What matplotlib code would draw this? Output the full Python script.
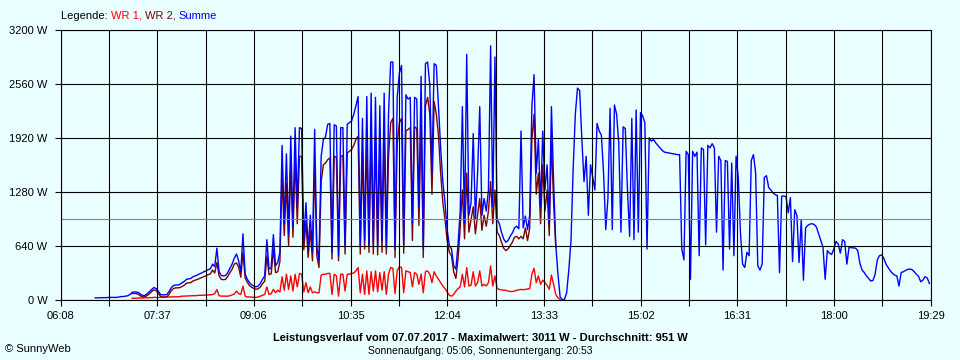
import numpy as np
import matplotlib
matplotlib.use("Agg")
import matplotlib.pyplot as plt

# ---------------- data ----------------
STEP_MIN = 2
SUMME_START = "06:40"
WR_START = "07:14"

summe = [
    20, 20, 20, 22, 22, 22, 25, 25, 25, 25,            # 06:40
    25, 30, 35, 35, 40, 45, 60, 85, 90, 88,            # 07:00
    80, 60, 45, 50, 70, 95, 120, 142, 130, 100,        # 07:20
    60, 55, 55, 60, 95, 140, 165, 172, 172, 180,       # 07:40
    200, 215, 240, 245, 250, 270, 280, 290, 305, 315,  # 08:00
    330, 340, 355, 365, 420, 390, 610, 330, 285, 280,  # 08:20
    285, 320, 370, 420, 490, 540, 460, 330, 780, 300,  # 08:40
    240, 200, 175, 160, 150, 160, 190, 240, 280, 710,  # 09:00
    360, 380, 770, 400, 440, 560, 1830, 900, 1730, 780,   # 09:20
    1940, 870, 2040, 1100, 2040, 2030, 700, 1150, 600, 1000,  # 09:40
    560, 2020, 620, 470, 1700, 1900, 1930, 2080, 2090, 560,   # 10:00
    2075, 2060, 520, 2040, 2040, 650, 2080, 2100, 2120, 2200,  # 10:20
    2300, 2410, 640, 2150, 700, 2410, 640, 2450, 660, 2400,    # 10:40
    640, 2300, 700, 2450, 620, 2200, 2820, 2820, 600, 2400,    # 11:00
    2690, 2780, 650, 2430, 2380, 2400, 900, 2400, 2380, 1100,  # 11:20
    2650, 600, 2800, 2820, 2550, 1500, 2800, 2780, 2300, 1800, # 11:40
    1400, 1150, 830, 640, 600, 400, 360, 650, 1050, 2290,      # 12:00
    900, 2910, 1000, 1150, 1970, 950, 1500, 2290, 1000, 1200,  # 12:20
    1050, 1300, 3011, 1100, 2880, 950, 900, 800, 720, 680,     # 12:40
    700, 750, 790, 850, 870, 840, 2000, 850, 990, 830,         # 13:00
    1000, 2290, 2670, 1500, 1900, 1100, 2000, 1300, 1600, 900, # 13:20
    2290, 1400, 650, 300, 30, 0, 0, 80, 350, 700,              # 13:40
    1550, 2200, 2510, 2480, 1900, 1400, 1700, 1000, 1600, 1450, # 14:00
    1300, 2090, 2000, 1950, 1500, 830, 1200, 2270, 830, 2310,  # 14:20
    2200, 1850, 800, 2050, 2030, 1300, 750, 2150, 710, 2250,   # 14:40
    800, 2220, 2180, 2100, 600, 1920, 1880, 1900, 1860, 1830,  # 15:00
    1800, 1770, 1750, 1745, 1740, 1735, 1730, 1725, 1720, 1720, # 15:20
    600, 470, 1760, 1720, 240, 1760, 1700, 1750, 520, 1800,    # 15:40
    1780, 650, 1830, 1800, 1850, 1800, 800, 1700, 1650, 350,   # 16:00
    1650, 1640, 600, 1620, 520, 1700, 1450, 800, 420, 380,     # 16:20
    560, 520, 1650, 1720, 1500, 400, 350, 420, 1450, 1470,     # 16:40
    1330, 1300, 1265, 1245, 1235, 320, 1225, 1230, 1220, 1030, # 17:00
    1210, 450, 1066, 1000, 440, 950, 230, 850, 880, 895,       # 17:20
    900, 890, 860, 780, 700, 620, 240, 580, 550, 535,          # 17:40
    600, 690, 660, 550, 710, 690, 420, 620, 615, 612,          # 18:00
    610, 580, 430, 350, 320, 280, 250, 220, 225, 300,          # 18:20
    470, 520, 530, 490, 420, 380, 340, 310, 290, 280,          # 18:40
    160, 320, 330, 345, 358, 362, 355, 330, 300, 275,          # 19:00
    210, 230, 270, 255, 190,                                   # 19:20
]

wr1 = [
    15, 15, 15, 18, 18, 18, 20, 20, 22, 22,        # 07:14
    25, 25, 25, 25, 25, 28, 30, 30, 30, 32,        # 07:34
    32, 32, 35, 40, 40, 42, 42, 45, 45, 45,        # 07:54
    48, 50, 50, 52, 52, 55, 55, 60, 70, 118,       # 08:14
    45, 40, 40, 40, 40, 45, 55, 65, 100, 70,       # 08:34
    60, 160, 40, 30, 30, 28, 25, 25, 30, 40,       # 08:54
    50, 60, 150, 60, 70, 120, 80, 110, 90, 270,    # 09:14
    110, 300, 120, 280, 100, 300, 150, 310, 300, 90,   # 09:34
    200, 80, 150, 80, 90, 80, 80, 290, 300, 300,       # 09:54
    310, 310, 60, 300, 280, 40, 300, 300, 100, 300,    # 10:14
    300, 310, 315, 340, 380, 80, 300, 60, 340, 60,     # 10:34
    330, 100, 340, 90, 320, 110, 330, 60, 300, 380,    # 10:54
    370, 70, 340, 390, 380, 80, 340, 330, 320, 150,    # 11:14
    320, 300, 180, 300, 80, 330, 340, 300, 200, 330,   # 11:34
    280, 240, 200, 160, 130, 90, 50, 40, 60, 100,      # 11:54
    130, 150, 300, 150, 380, 160, 170, 330, 160, 200,  # 12:14
    340, 160, 180, 160, 200, 400, 160, 280, 130, 120,  # 12:34
    115, 110, 110, 100, 95, 95, 100, 110, 115, 120,    # 12:54
    115, 120, 125, 130, 300, 370, 200, 280, 180, 230,  # 13:14
    200, 170, 120, 290, 180, 60, 20, 0,                # 13:34
]

wr2 = [
    70, 72, 70, 58, 40, 30, 32, 50, 70, 95,             # 07:14
    115, 105, 75, 38, 30, 30, 32, 62, 105, 130,         # 07:34
    138, 138, 142, 155, 170, 192, 198, 200, 220, 230,   # 07:54
    238, 250, 260, 272, 282, 295, 305, 350, 315, 440,   # 08:14
    280, 240, 235, 240, 275, 320, 360, 420, 435, 385,   # 08:34
    265, 560, 255, 205, 165, 145, 132, 122, 128, 148,   # 08:54
    188, 218, 520, 295, 305, 600, 318, 330, 450, 1500,  # 09:14
    760, 1380, 640, 1600, 740, 1680, 900, 1700, 1700, 590,    # 09:34
    930, 500, 820, 460, 1600, 520, 380, 1400, 1600, 1620,     # 09:54
    1660, 1680, 480, 1700, 1690, 460, 1700, 1710, 540, 1740,  # 10:14
    1760, 1780, 1830, 1900, 1940, 540, 1750, 600, 1900, 560,  # 10:34
    1950, 540, 1900, 530, 1800, 560, 1950, 540, 1700, 2100,   # 10:54
    2150, 500, 1850, 2100, 2150, 550, 2000, 2020, 2040, 700,  # 11:14
    2050, 2030, 880, 2200, 500, 2300, 2400, 2200, 1250, 2350, # 11:34
    2200, 1950, 1500, 1150, 950, 700, 560, 520, 330, 250,     # 11:54
    480, 850, 1300, 720, 1500, 800, 950, 1100, 780, 1000,     # 12:14
    1200, 820, 1000, 870, 1050, 1400, 900, 1300, 800, 760,    # 12:34
    680, 610, 580, 600, 640, 680, 740, 750, 720, 750,         # 12:54
    720, 850, 700, 850, 1900, 2200, 1250, 1500, 900, 1600,    # 13:14
    1050, 1300, 760, 1880, 1150, 620,                         # 13:34
]

X_TICK_LABELS = ["06:08", "07:37", "09:06", "10:35", "12:04",
                 "13:33", "15:02", "16:31", "18:00", "19:29"]
Y_TICKS = [0, 640, 1280, 1920, 2560, 3200]
AVERAGE_W = 951
MAXIMUM_W = 3011
DATE = "07.07.2017"
SUNRISE = "05:06"
SUNSET = "20:53"

SERIES = [("WR 1", "#FF0000"), ("WR 2", "#800000"), ("Summe", "#0000FF")]


def to_min(s):
    h, m = s.split(":")
    return int(h) * 60 + int(m)


def times(start, n):
    return to_min(start) + STEP_MIN * np.arange(n)


BG = "#EAFFFF"
FONT = ["Liberation Sans", "DejaVu Sans"]
plt.rcParams["font.family"] = FONT

W, H = 960, 360
fig = plt.figure(figsize=(W / 100, H / 100), dpi=100, facecolor=BG)
left, right, top, bottom = 60.5, 930.5, 30.0, 299.5
ax = fig.add_axes([left / W, (H - bottom) / H, (right - left) / W, (bottom - top) / H],
                  facecolor=BG)

x_major = [to_min(s) for s in X_TICK_LABELS]
x0, x1 = x_major[0], x_major[-1]
half = (x_major[1] - x_major[0]) / 2
x_all = [x0 + half * k for k in range(2 * (len(x_major) - 1) + 1)]

ax.set_xlim(x0, x1)
ax.set_ylim(Y_TICKS[0], Y_TICKS[-1])

# data
LW = 1.0
ax.plot(times(WR_START, len(wr1)), wr1, color=SERIES[0][1], lw=LW, zorder=3)
ax.plot(times(WR_START, len(wr2)), wr2, color=SERIES[1][1], lw=LW, zorder=4)
ax.plot(times(SUMME_START, len(summe)), summe, color=SERIES[2][1], lw=LW, zorder=5)

# grid (on top of data like the original)
for xv in x_all:
    ax.axvline(xv, color="black", lw=0.8, zorder=6)
for yv in Y_TICKS:
    ax.axhline(yv, color="black", lw=0.8, zorder=6)
ax.axhline(AVERAGE_W, color="#808080", lw=0.8, zorder=7)

for sp in ax.spines.values():
    sp.set_color("black")
    sp.set_linewidth(0.8)
    sp.set_zorder(8)

ax.set_xticks(x_all)
lab = []
for i in range(len(x_all)):
    lab.append(X_TICK_LABELS[i // 2] if i % 2 == 0 else "")
ax.set_xticklabels(lab)
ax.set_yticks(Y_TICKS)
ax.set_yticklabels([f"{v} W" for v in Y_TICKS])
ax.tick_params(axis="both", direction="out", length=4.5, width=0.8, color="black",
               labelsize=8, labelcolor="black")
ax.tick_params(axis="x", pad=4)
ax.tick_params(axis="y", pad=5)

# legend
t = fig.text(61 / W, 1 - 16 / H, "Legende: ", color="black", fontsize=8,
             va="center", ha="left")
t = ax.annotate("WR 1, ", xy=(1, 0), xycoords=t, va="bottom", ha="left",
                color=SERIES[0][1], fontsize=8, annotation_clip=False)
t = ax.annotate("WR 2, ", xy=(1, 0), xycoords=t, va="bottom", ha="left",
                color=SERIES[1][1], fontsize=8, annotation_clip=False)
t = ax.annotate("Summe", xy=(1, 0), xycoords=t, va="bottom", ha="left",
                color=SERIES[2][1], fontsize=8, annotation_clip=False)

fig.text(480 / W, 1 - 338 / H,
         f"Leistungsverlauf vom {DATE} - Maximalwert: {MAXIMUM_W} W - Durchschnitt: {AVERAGE_W} W",
         ha="center", va="center", fontsize=8, fontweight="bold", color="black")
fig.text(480 / W, 1 - 351 / H,
         f"Sonnenaufgang: {SUNRISE}, Sonnenuntergang: {SUNSET}",
         ha="center", va="center", fontsize=7.5, color="black")
fig.text(5 / W, 1 - 349 / H, "\u00a9 SunnyWeb", ha="left", va="center",
         fontsize=8, color="black")

fig.savefig("out.png", dpi=100, facecolor=BG)
